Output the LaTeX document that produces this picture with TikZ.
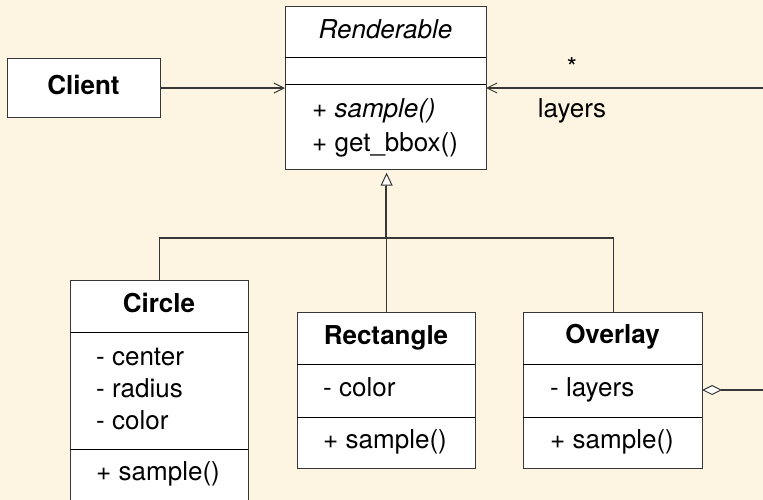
\documentclass[tikz,border=0pt]{standalone}
\usepackage{fontspec}
\setmainfont{TeX Gyre Heros}
\usetikzlibrary{arrows.meta}
\definecolor{paper}{RGB}{253,245,226}
\definecolor{edge}{RGB}{55,55,55}
\begin{document}
\begin{tikzpicture}[x=1pt,y=-1pt,
  box/.style={draw=edge, fill=white, line width=1.2pt, inner sep=0pt, anchor=north west},
  txt/.style={inner sep=0pt, anchor=base west, font=\fontsize{26}{31}\selectfont},
  ctxt/.style={inner sep=0pt, anchor=base, font=\fontsize{26}{31}\selectfont},
  ttl/.style={inner sep=0pt, anchor=base, font=\fontsize{26}{31}\selectfont\bfseries},
  sep/.style={draw=black, line width=1pt},
  link/.style={draw=edge, line width=1.2pt},
  nav/.style={link, -{Straight Barb[length=10pt, width=10pt, line width=1pt]}},
  inherit/.style={link, -{Triangle[open, length=13pt, width=12pt, line width=1pt, fill=white]}},
  agg/.style={link, {Diamond[open, length=20pt, width=10pt, line width=1pt, fill=white]}-{Straight Barb[length=10pt, width=10pt, line width=1pt]}}
]
% background and page frame
\fill[paper] (0,0) rectangle (763,500);
\useasboundingbox (0,0) rectangle (763,500);
\clip (0,0) rectangle (763,500);

% ---------- Client ----------
\node[box, minimum width=153pt, minimum height=59pt] (client) at (7,58) {};
\node[ttl] (clientname) at (83.5,94.5) {Client};

% ---------- Renderable (abstract) ----------
\node[box, minimum width=201pt, minimum height=163pt] (render) at (285,6) {};
\draw[sep] (285,58) -- (486,58);
\draw[sep] (285,85) -- (486,85);
\node[ctxt, font=\fontsize{26}{31}\selectfont\itshape] (rendername) at (385.5,39) {Renderable};
\node[txt] (rop1) at (312,118) {+ \textit{sample()}};
\node[txt] (rop2) at (312,151) {+ get\_bbox()};

% ---------- Circle ----------
\node[box, minimum width=178pt, minimum height=221pt] (circle) at (70,280) {};
\draw[sep] (70,332) -- (248,332);
\draw[sep] (70,449) -- (248,449);
\node[ttl] (circlename) at (159,312.5) {Circle};
\node[txt] (cat1) at (96,365) {- center};
\node[txt] (cat2) at (96,397) {- radius};
\node[txt] (cat3) at (96,429) {- color};
\node[txt] (cop1) at (96,480) {+ sample()};

% ---------- Rectangle ----------
\node[box, minimum width=178pt, minimum height=156pt] (rect) at (297,312) {};
\draw[sep] (297,364) -- (475,364);
\draw[sep] (297,417) -- (475,417);
\node[ttl] (rectname) at (386,344) {Rectangle};
\node[txt] (rat1) at (323,396) {- color};
\node[txt] (rop) at (323,448) {+ sample()};

% ---------- Overlay ----------
\node[box, minimum width=179pt, minimum height=156pt] (overlay) at (523,312) {};
\draw[sep] (523,364) -- (702,364);
\draw[sep] (523,417) -- (702,417);
\node[ttl] (overlayname) at (612.5,343.5) {Overlay};
\node[txt] (oat1) at (550,396) {- layers};
\node[txt] (oop) at (550,448) {+ sample()};

% ---------- connectors ----------
% Client uses Renderable
\draw[nav] (client.east) -- (client.east -| render.west);

% generalisation tree: the shared trunk is heavier where the branches merge
\coordinate (bus) at (386,238);
\draw[link] (circle.north) |- (bus) -| (overlay.north);
\draw[link, line width=1.8pt, shorten >=16pt] (bus) -- (bus |- render.south);
\draw[inherit, shorten >=2.5pt] (rect.north) -- (rect.north |- render.south);

% Overlay aggregates Renderable layers (routed past the right edge)
\coordinate (aggstart) at (702,390);
\coordinate (turn1) at (785,390);
\coordinate (turn2) at (785,88);
\coordinate (aggend) at (486,88);
\draw[agg] (aggstart) -- (turn1) -- (turn2) -- (aggend);
\node[ctxt] (mult) at (572,77) {*};
\node[ctxt] (role) at (572,118) {layers};
\end{tikzpicture}
\end{document}
